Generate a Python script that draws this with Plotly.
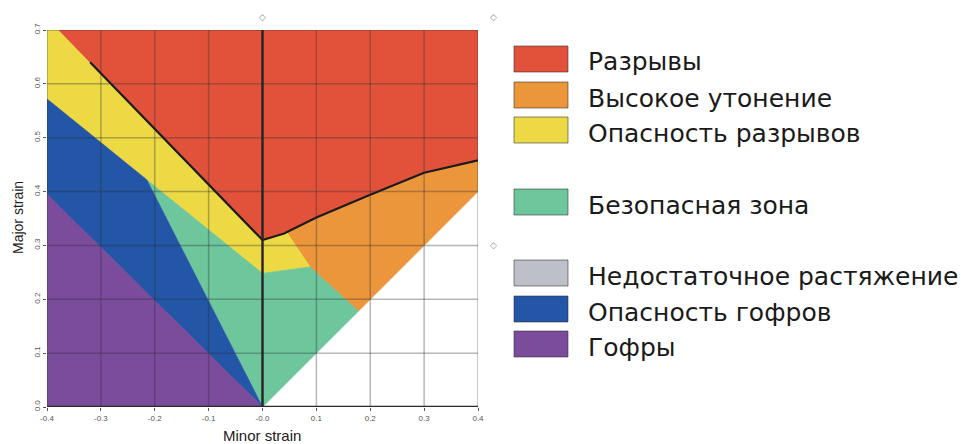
import plotly.graph_objects as go

# ---- Axis ticks ----
x_ticks = [-0.4, -0.3, -0.2, -0.1, 0.0, 0.1, 0.2, 0.3, 0.4]
x_tick_labels = ["-0.4", "-0.3", "-0.2", "-0.1", "-0.0", "0.1", "0.2", "0.3", "0.4"]
y_ticks = [0.0, 0.1, 0.2, 0.3, 0.4, 0.5, 0.6, 0.7]
y_tick_labels = ["0.0", "0.1", "0.2", "0.3", "0.4", "0.5", "0.6", "0.7"]
x_title = "Minor strain"
y_title = "Major strain"

# ---- Forming limit curve (black line) ----
flc_x = [-0.32, 0.0, 0.04, 0.1, 0.2, 0.3, 0.4]
flc_y = [0.64, 0.31, 0.322, 0.352, 0.394, 0.435, 0.458]

# ---- Zone polygons (minor strain, major strain) ----
fracture_x = [-0.38, 0.4, 0.4, 0.3, 0.2, 0.1, 0.04, 0.0]
fracture_y = [0.70, 0.70, 0.458, 0.435, 0.394, 0.352, 0.322, 0.31]

thinning_x = [0.045, 0.1, 0.2, 0.3, 0.4, 0.4, 0.178, 0.088]
thinning_y = [0.324, 0.352, 0.394, 0.435, 0.458, 0.40, 0.178, 0.26]

risk_x = [-0.4, -0.38, 0.0, 0.045, 0.088, 0.0, -0.215, -0.4]
risk_y = [0.70, 0.70, 0.31, 0.324, 0.26, 0.248, 0.422, 0.572]

safe_x = [-0.215, 0.0, 0.088, 0.178, 0.0]
safe_y = [0.422, 0.248, 0.26, 0.178, 0.0]

wrinkle_risk_x = [-0.4, -0.215, 0.0, -0.4]
wrinkle_risk_y = [0.572, 0.422, 0.0, 0.395]

wrinkles_x = [-0.4, 0.0, -0.4]
wrinkles_y = [0.395, 0.0, 0.0]

# ---- Legend ----
legend_names = [
    "Разрывы",
    "Высокое утонение",
    "Опасность разрывов",
    "Безопасная зона",
    "Недостаточное растяжение",
    "Опасность гофров",
    "Гофры",
]
legend_colors = ["#E2523A", "#EC963C", "#EDD944", "#6EC69D", "#BDC0C8", "#2356A6", "#7B4B9C"]
legend_rows_px = [59, 95, 130, 202, 273, 309, 344]   # vertical centres of the legend rows

zone_color = dict(zip(legend_names, legend_colors))

fig = go.Figure()

zones = [
    ("Разрывы", fracture_x, fracture_y),
    ("Высокое утонение", thinning_x, thinning_y),
    ("Опасность разрывов", risk_x, risk_y),
    ("Безопасная зона", safe_x, safe_y),
    ("Опасность гофров", wrinkle_risk_x, wrinkle_risk_y),
    ("Гофры", wrinkles_x, wrinkles_y),
]
for name, xs, ys in zones:
    c = zone_color[name]
    fig.add_trace(go.Scatter(
        x=xs, y=ys, fill="toself", fillcolor=c, mode="lines",
        line=dict(color=c, width=0.8), name=name, showlegend=False, hoverinfo="name",
    ))

fig.add_trace(go.Scatter(
    x=flc_x, y=flc_y, mode="lines", line=dict(color="#1c1c1c", width=2.2),
    showlegend=False, hoverinfo="skip",
))

# ---- Plot geometry (pixels) ----
W, H = 971, 444
L, R, T, B = 47, 478, 30, 407
pw, ph = R - L, B - T


def px_x(px):
    return (px - L) / pw


def px_y(py):
    return (B - py) / ph


shapes = []
# grid drawn above the coloured zones
for xv in x_ticks:
    shapes.append(dict(type="line", xref="x", yref="y", x0=xv, x1=xv, y0=y_ticks[0], y1=y_ticks[-1],
                       line=dict(color="rgba(45,45,55,0.34)", width=1.5), layer="above"))
for yv in y_ticks:
    shapes.append(dict(type="line", xref="x", yref="y", x0=x_ticks[0], x1=x_ticks[-1], y0=yv, y1=yv,
                       line=dict(color="rgba(45,45,55,0.34)", width=1.5), layer="above"))
# vertical line at zero minor strain
shapes.append(dict(type="line", xref="x", yref="y", x0=0, x1=0, y0=y_ticks[0], y1=y_ticks[-1],
                   line=dict(color="#262626", width=2.4), layer="above"))
# bottom axis line
shapes.append(dict(type="line", xref="x", yref="y", x0=x_ticks[0], x1=x_ticks[-1], y0=0, y1=0,
                   line=dict(color="#2a2a2a", width=2.4), layer="above"))

annotations = []
# legend swatches and labels
for name, color, cy in zip(legend_names, legend_colors, legend_rows_px):
    shapes.append(dict(type="rect", xref="paper", yref="paper",
                       x0=px_x(514), x1=px_x(568), y0=px_y(cy + 13), y1=px_y(cy - 13),
                       fillcolor=color, line=dict(color="rgba(40,40,40,0.55)", width=1)))
    annotations.append(dict(xref="paper", yref="paper", x=px_x(586), y=px_y(cy + 3),
                            text=name, showarrow=False, xanchor="left", yanchor="middle",
                            font=dict(family="DejaVu Sans", size=25, color="#1a1a1a")))

# axis titles
annotations.append(dict(xref="paper", yref="paper", x=px_x(262), y=px_y(435), text=x_title,
                        showarrow=False, xanchor="center", yanchor="middle",
                        font=dict(family="Liberation Sans, Arial, sans-serif", size=15, color="#222")))
annotations.append(dict(xref="paper", yref="paper", x=px_x(18), y=px_y(218), text=y_title,
                        textangle=-90, showarrow=False, xanchor="center", yanchor="middle",
                        font=dict(family="Liberation Sans, Arial, sans-serif", size=14, color="#222")))

# small handle markers around the chart frame
for hx, hy in [(262, 17), (493, 17), (493, 245)]:
    annotations.append(dict(xref="paper", yref="paper", x=px_x(hx), y=px_y(hy), text="◇",
                            showarrow=False, xanchor="center", yanchor="middle",
                            font=dict(family="DejaVu Sans", size=9, color="#8a8a8a")))

fig.update_layout(
    width=W, height=H,
    margin=dict(l=L, r=W - R, t=T, b=H - B, pad=0),
    paper_bgcolor="white", plot_bgcolor="white",
    showlegend=False,
    shapes=shapes, annotations=annotations,
    font=dict(family="Liberation Sans, Arial, sans-serif"),
)
fig.update_xaxes(
    range=[x_ticks[0], x_ticks[-1]], tickvals=x_ticks, ticktext=x_tick_labels,
    showgrid=False, zeroline=False, showline=False, automargin=False,
    ticks="outside", ticklen=3, tickcolor="#555", tickwidth=1,
    tickfont=dict(size=8, color="#555"),
)
fig.update_yaxes(
    range=[y_ticks[0], y_ticks[-1]], tickvals=y_ticks, ticktext=y_tick_labels,
    showgrid=False, zeroline=False, showline=False, automargin=False,
    ticks="outside", ticklen=3, tickcolor="#555", tickwidth=1, tickangle=-90,
    tickfont=dict(size=8, color="#555"),
)

fig.write_html("out.html")
